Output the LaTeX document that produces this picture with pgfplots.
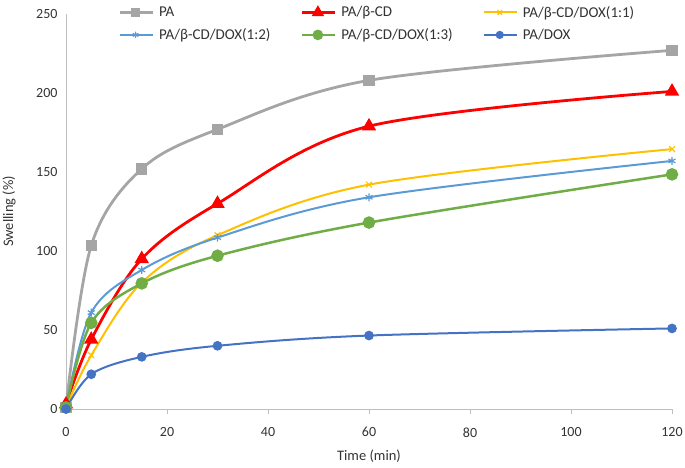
\documentclass[border=0pt]{standalone}
\usepackage{fontspec}
\setmainfont{Carlito}
\usepackage{pgfplots}
\pgfplotsset{compat=1.18}

\definecolor{cPA}{HTML}{A5A5A5}
\definecolor{cCD}{HTML}{FF0000}
\definecolor{cA}{HTML}{FFC000}
\definecolor{cB}{HTML}{5B9BD5}
\definecolor{cC}{HTML}{70AD47}
\definecolor{cDOX}{HTML}{4472C4}
\definecolor{axisgray}{HTML}{BFBFBF}

\begin{document}
\begin{tikzpicture}
\begin{axis}[
    scale only axis,
    width=606pt, height=395pt,
    xmin=0, xmax=120, ymin=0, ymax=250,
    xtick={0,20,...,120}, ytick={0,50,...,250},
    axis x line*=bottom, axis y line*=left,
    axis line style={axisgray, line width=0.8pt, -},
    x tick style={axisgray, line width=0.8pt},
    xtick align=outside, major tick length=5pt,
    y tick style={draw=none},
    tick label style={font=\fontsize{14}{16}\selectfont, text=black!80},
    /pgf/number format/assume math mode=true,
    xticklabel style={anchor=north, yshift=-10pt},
    yticklabel style={anchor=east, xshift=-5pt},
    xlabel={Time (min)}, ylabel={Swelling (\%)},
    every axis x label/.style={at={(axis description cs:0.5,-0.12)}, anchor=center,
        font=\fontsize{14.5}{16}\selectfont, text=black!80},
    every axis y label/.style={at={(axis description cs:-0.094,0.5)}, rotate=90, anchor=center,
        font=\fontsize{14.5}{16}\selectfont, text=black!80},
    clip=false,
    legend columns=3,
    legend cell align=left,
    legend style={at={(axis description cs:0,1)}, anchor=north west,
        xshift=52pt, yshift=10pt, draw=none, fill=none, inner sep=0pt,
        font=\fontsize{15}{17}\selectfont, text=black!80,
        /tikz/every odd column/.append style={column sep=3pt},
        /tikz/every even column/.append style={column sep=28pt},
        row sep=6pt},
    legend image code/.code={%
        \draw[mark repeat=2,mark phase=2,#1] plot coordinates {(0pt,0pt)(16pt,0pt)(33pt,0pt)};},
    legend image post style={every mark/.append style={scale=0.8}},
    every axis plot/.append style={smooth, tension=0.55},
]
\addplot[cPA, line width=2.8pt, mark=square*, mark size=4.3pt] coordinates {
    (0,1) (5,103.5) (15,152) (30,177) (60,208) (120,227)};
\addlegendentry{PA}
\addplot[cCD, line width=2.8pt, mark=triangle*, mark size=5.5pt] coordinates {
    (0,3) (5,44) (15,95) (30,130) (60,179) (120,201)};
\addlegendentry{PA/β-CD}
\addplot[cA, line width=2pt, mark=x, mark size=4pt, mark options={line width=1.2pt}] coordinates {
    (0,1) (5,34) (15,80) (30,110) (60,142) (120,164.5)};
\addlegendentry{PA/β-CD/DOX(1:1)}
\addplot[cB, line width=2pt, mark=asterisk, mark size=4pt, mark options={line width=1.2pt}] coordinates {
    (0,1) (5,61) (15,88) (30,108.5) (60,134) (120,157)};
\addlegendentry{PA/β-CD/DOX(1:2)}
\addplot[cC, line width=2.5pt, mark=*, mark size=5pt] coordinates {
    (0,1) (5,54.5) (15,79.5) (30,97) (60,118) (120,148.5)};
\addlegendentry{PA/β-CD/DOX(1:3)}
\addplot[cDOX, line width=2pt, mark=*, mark size=3.8pt] coordinates {
    (0,0) (5,22) (15,33) (30,40) (60,46.5) (120,51)};
\addlegendentry{PA/DOX}
\end{axis}
\pgfresetboundingbox
\path (-66pt,-58pt) rectangle (619pt,409pt);
\end{tikzpicture}
\end{document}
